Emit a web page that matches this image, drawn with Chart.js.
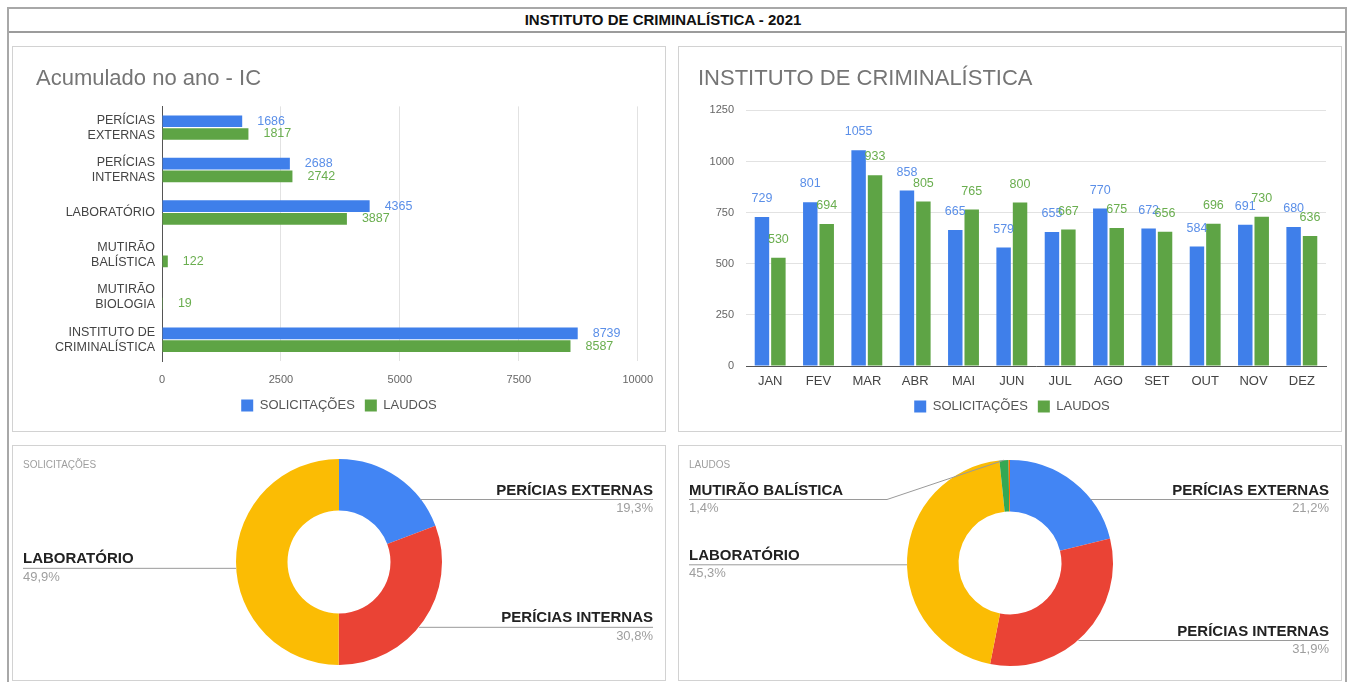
<!DOCTYPE html>
<html lang="pt-BR">
<head>
<meta charset="utf-8">
<title>Instituto de Criminalística - 2021</title>
<script src="https://cdn.jsdelivr.net/npm/chart.js@4.4.1/dist/chart.umd.min.js"></script>
<style>
  body { margin: 0; width: 1352px; height: 682px; overflow: hidden; background: #fff; font-family: "Liberation Sans", Arial, sans-serif; }
  #frame { position: absolute; left: 7px; top: 7px; width: 1336px; height: 690px; border: 2px solid #a8a8a8; }
  #header { position: absolute; left: 9px; top: 9px; width: 1308px; padding-right: 28px; height: 22px; line-height: 22px; border-bottom: 2px solid #9c9c9c;
            text-align: center; font-size: 15px; font-weight: bold; color: #111; }
  .panel { position: absolute; border: 1px solid #d2d2d2; background: #fff; }
  .panel canvas { position: absolute; left: 0; top: 0; }
</style>
</head>
<body>
<div id="frame"></div>
<div id="header">INSTITUTO DE CRIMINALÍSTICA - 2021</div>

<div class="panel" style="left:12px; top:46px; width:652px; height:384px;"><canvas id="acumulado" width="652" height="384"></canvas></div>
<div class="panel" style="left:678px; top:46px; width:662px; height:384px;"><canvas id="mensal" width="662" height="384"></canvas></div>
<div class="panel" style="left:12px; top:445px; width:652px; height:234px;"><canvas id="pizza-solicitacoes" width="652" height="234"></canvas></div>
<div class="panel" style="left:678px; top:445px; width:662px; height:234px;"><canvas id="pizza-laudos" width="662" height="234"></canvas></div>

<script>
// Categorias do acumulado no ano
let categories = [["PERÍCIAS", "EXTERNAS"], ["PERÍCIAS", "INTERNAS"], "LABORATÓRIO", ["MUTIRÃO", "BALÍSTICA"], ["MUTIRÃO", "BIOLOGIA"], ["INSTITUTO DE", "CRIMINALÍSTICA"]];

// Totais do ano por categoria
let totalSolicitacoes = [1686, 2688, 4365, 0, 0, 8739];
let totalLaudos = [1817, 2742, 3887, 122, 19, 8587];

// Meses e valores mensais do instituto
let months = ["JAN", "FEV", "MAR", "ABR", "MAI", "JUN", "JUL", "AGO", "SET", "OUT", "NOV", "DEZ"];
let monthSolicitacoes = [729, 801, 1055, 858, 665, 579, 655, 770, 672, 584, 691, 680];
let monthLaudos = [530, 694, 933, 805, 765, 800, 667, 675, 656, 696, 730, 636];

// Fatias das pizzas (sem o total do instituto)
let sliceNames = ["PERÍCIAS EXTERNAS", "PERÍCIAS INTERNAS", "LABORATÓRIO", "MUTIRÃO BALÍSTICA", "MUTIRÃO BIOLOGIA"];
let sliceSolicitacoes = [1686, 2688, 4365, 0, 0];
let sliceLaudos = [1817, 2742, 3887, 122, 19];

const FONT = '"Liberation Sans", Arial, sans-serif';
const BLUE = "#3f7fea";
const GREEN = "#5ea445";
const sliceColours = ["#4285f4", "#ea4335", "#fbbc04", "#34a853", "#ff6d01"];

// Escreve o valor ao lado / em cima de cada barra
const valueLabels = {
    id: "valueLabels",
    afterDatasetsDraw(chart, args, opts) {
        const ctx = chart.ctx;
        const horizontal = chart.options.indexAxis === "y";
        ctx.save();
        ctx.font = "12.5px " + FONT;
        chart.data.datasets.forEach((ds, i) => {
            ctx.fillStyle = opts.colors[i];
            chart.getDatasetMeta(i).data.forEach((bar, j) => {
                const v = ds.data[j];
                if (!v) return;
                if (horizontal) {
                    ctx.textAlign = "left";
                    ctx.textBaseline = "middle";
                    ctx.fillText(v, bar.x + 15, bar.y);
                } else {
                    ctx.textAlign = "center";
                    ctx.textBaseline = "bottom";
                    ctx.fillText(v, bar.x, bar.y - 12);
                }
            });
        });
        ctx.restore();
    }
};

// Rótulos com linha guia das pizzas, no estilo do Google
const sliceLabels = {
    id: "sliceLabels",
    afterDraw(chart, args, opts) {
        const ctx = chart.ctx;
        const data = chart.data.datasets[0].data;
        const total = data.reduce((a, b) => a + b, 0);
        const W = chart.width, H = chart.height;
        ctx.save();
        ctx.font = "10px " + FONT;
        ctx.fillStyle = "#9e9e9e";
        ctx.textAlign = "left";
        ctx.textBaseline = "middle";
        ctx.fillText(opts.heading, 10, 19);

        chart.getDatasetMeta(0).data.forEach((arc, i) => {
            const pct = data[i] / total * 100;
            if (pct < 1) return;
            const mid = (arc.startAngle + arc.endAngle) / 2;
            const R = arc.outerRadius;
            const cx = arc.x, cy = arc.y;
            const px = cx + Math.cos(mid) * R, py = cy + Math.sin(mid) * R;
            const side = Math.cos(mid) >= 0 ? 1 : -1;
            const lineY = Math.min(Math.max(py + 6, 53), H - 40);
            const endX = side > 0 ? W - 12 : 10;

            ctx.strokeStyle = "#9a9a9a";
            ctx.lineWidth = 1;
            ctx.beginPath();
            const dy = lineY - cy;
            let inside = false, ex = 0;
            if (Math.abs(dy) < R) {
                ex = cx + side * Math.sqrt(R * R - dy * dy);
                let a = Math.atan2(dy, ex - cx);
                while (a < arc.startAngle) a += Math.PI * 2;
                inside = a <= arc.endAngle;
            }
            if (inside) {
                ctx.moveTo(ex, lineY + 0.5);
            } else {
                ctx.moveTo(px, py);
                ctx.lineTo(cx + side * (R + 20), lineY + 0.5);
            }
            ctx.lineTo(endX, lineY + 0.5);
            ctx.stroke();

            ctx.textAlign = side > 0 ? "right" : "left";
            ctx.fillStyle = "#222";
            ctx.font = "bold 15px " + FONT;
            ctx.textBaseline = "bottom";
            ctx.fillText(sliceNames[i], endX, lineY - 1);
            ctx.fillStyle = "#9e9e9e";
            ctx.font = "13px " + FONT;
            ctx.textBaseline = "top";
            ctx.fillText(pct.toFixed(1).replace(".", ",") + "%", endX, lineY + 3);
        });
        ctx.restore();
    }
};

function legendOptions() {
    return {
        position: "bottom",
        labels: { boxWidth: 12, boxHeight: 12, padding: 10, color: "#555", font: { family: FONT, size: 13 } }
    };
}

function plainNumber(value) {
    return String(value);
}

function loadAcumuladoChart() {
    new Chart("acumulado", {
        type: "bar",
        data: {
            labels: categories,
            datasets: [
                { label: "SOLICITAÇÕES", data: totalSolicitacoes, backgroundColor: BLUE, categoryPercentage: 0.6, barPercentage: 0.92 },
                { label: "LAUDOS", data: totalLaudos, backgroundColor: GREEN, categoryPercentage: 0.6, barPercentage: 0.92 }
            ]
        },
        options: {
            indexAxis: "y",
            responsive: false,
            animation: false,
            layout: { padding: { left: 23, right: 23, top: 0, bottom: 9 } },
            scales: {
                x: {
                    min: 0, max: 10000,
                    ticks: { stepSize: 2500, padding: 12, color: "#666", font: { family: FONT, size: 11 }, callback: plainNumber },
                    grid: { drawTicks: false, color: "#e2e2e2" },
                    border: { display: false },
                    afterFit: scale => { scale.height = 28; }
                },
                y: {
                    ticks: { padding: 7, color: "#444", font: { family: FONT, size: 12.5 }, autoSkip: false },
                    grid: { display: false, drawTicks: false },
                    border: { color: "#555" },
                    afterFit: scale => { scale.width = 126; }
                }
            },
            plugins: {
                title: { display: true, text: "Acumulado no ano - IC", align: "start", color: "#757575",
                         font: { family: FONT, size: 22, weight: "normal" }, padding: { top: 19, bottom: 14 } },
                legend: legendOptions(),
                tooltip: { enabled: false },
                valueLabels: { colors: ["#5b8fe8", "#6aae4f"] }
            }
        },
        plugins: [valueLabels]
    });
}

function loadMensalChart() {
    new Chart("mensal", {
        type: "bar",
        data: {
            labels: months,
            datasets: [
                { label: "SOLICITAÇÕES", data: monthSolicitacoes, backgroundColor: BLUE, categoryPercentage: 0.68, barPercentage: 0.88 },
                { label: "LAUDOS", data: monthLaudos, backgroundColor: GREEN, categoryPercentage: 0.68, barPercentage: 0.88 }
            ]
        },
        options: {
            responsive: false,
            animation: false,
            layout: { padding: { left: 19, right: 15, top: 0, bottom: 8 } },
            scales: {
                x: {
                    ticks: { padding: 8, color: "#444", font: { family: FONT, size: 13 } },
                    grid: { display: false, drawTicks: false },
                    border: { color: "#555" },
                    afterFit: scale => { scale.height = 24; }
                },
                y: {
                    min: 0, max: 1250,
                    ticks: { stepSize: 250, padding: 12, color: "#666", font: { family: FONT, size: 11 }, callback: plainNumber },
                    grid: { drawTicks: false, color: "#e2e2e2" },
                    border: { display: false },
                    afterFit: scale => { scale.width = 48; }
                }
            },
            plugins: {
                title: { display: true, text: "INSTITUTO DE CRIMINALÍSTICA", align: "start", color: "#757575",
                         font: { family: FONT, size: 22, weight: "normal" }, padding: { top: 19, bottom: 18 } },
                legend: legendOptions(),
                tooltip: { enabled: false },
                valueLabels: { colors: ["#5b8fe8", "#6aae4f"] }
            }
        },
        plugins: [valueLabels]
    });
}

function loadPizza(id, heading, values, pad) {
    new Chart(id, {
        type: "doughnut",
        data: {
            labels: sliceNames,
            datasets: [{ data: values, backgroundColor: sliceColours, borderWidth: 0 }]
        },
        options: {
            responsive: false,
            animation: false,
            cutout: "50%",
            layout: { padding: pad },
            plugins: {
                legend: { display: false },
                tooltip: { enabled: false },
                sliceLabels: { heading: heading }
            }
        },
        plugins: [sliceLabels]
    });
}

loadAcumuladoChart();
loadMensalChart();
loadPizza("pizza-solicitacoes", "SOLICITAÇÕES", sliceSolicitacoes, { top: 13, bottom: 15 });
loadPizza("pizza-laudos", "LAUDOS", sliceLaudos, { top: 14, bottom: 14 });
</script>
</body>
</html>
